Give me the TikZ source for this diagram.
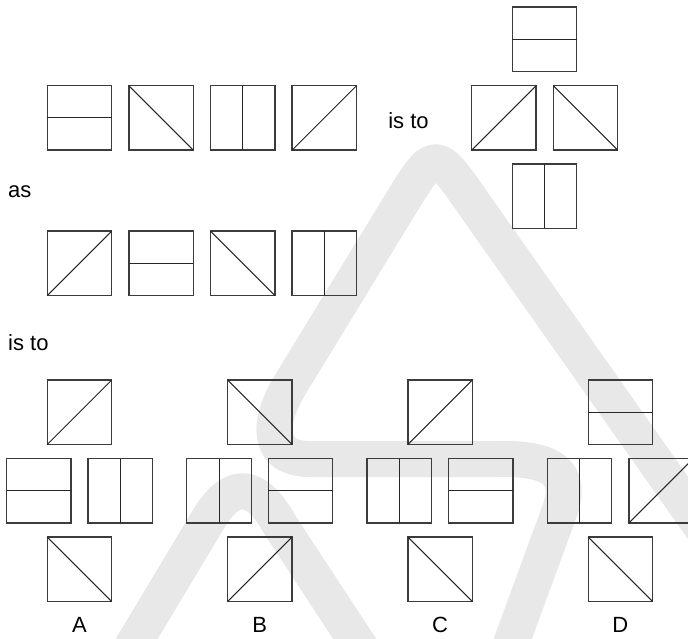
\documentclass[tikz,border=0pt]{standalone}
\usepackage{fontspec}
\setmainfont{Liberation Sans}
\definecolor{wmgray}{RGB}{232,232,232}
\definecolor{edge}{RGB}{60,60,60}
\tikzset{
  sq/.style={draw=edge, line width=1.3pt, minimum width=64.4pt, minimum height=64.4pt, inner sep=0pt, outer sep=0pt},
  inl/.style={draw=black!85, line width=1pt},
  wm/.style={draw=wmgray, line width=36pt, line join=round},
  lab/.style={font=\fontsize{22pt}{26pt}\selectfont, inner sep=0pt, text=black}
}
\newcommand\hbx[3]{\node[sq] (#1) at (#2,#3) {}; \draw[inl] (#1.west) -- (#1.east);}
\newcommand\vbx[3]{\node[sq] (#1) at (#2,#3) {}; \draw[inl] (#1.north) -- (#1.south);}
\newcommand\bbx[3]{\node[sq] (#1) at (#2,#3) {}; \draw[inl] (#1.north west) -- (#1.south east);}
\newcommand\sbx[3]{\node[sq] (#1) at (#2,#3) {}; \draw[inl] (#1.south west) -- (#1.north east);}
\begin{document}
\begin{tikzpicture}[x=1pt,y=-1pt]
\useasboundingbox (0,0) rectangle (688,638);
\fill[white] (0,0) rectangle (688,638);
% watermark
\begin{scope}
\clip (0,0) rectangle (688,638);
\draw[wm] (130,650) -- (205,525) .. controls (230,480) and (255,480) .. (280,525) -- (362,650);
\draw[wm] (760,610) -- (474.5,205) .. controls (435,148) and (435,148) .. (400,205) -- (290,385)
  .. controls (268,421) and (265,459) .. (310,459) -- (500,459)
  .. controls (555,458) and (572,475) .. (560,510) -- (505,660);
\end{scope}
% row 1
\hbx{r1a}{79.5}{117.9}
\bbx{r1b}{161.1}{117.9}
\vbx{r1c}{242.7}{117.9}
\sbx{r1d}{324.3}{117.9}
\node[lab, anchor=base] (isto1) at (408.5,128.3) {is to};
% right cross group
\hbx{qt}{544.5}{39.3}
\sbx{ql}{503.9}{117.9}
\bbx{qr}{585.5}{117.9}
\vbx{qb}{544.5}{196.2}
% as
\node[lab, anchor=base west] (as) at (8,197) {as};
% row 2
\sbx{r2a}{79.5}{263.3}
\hbx{r2b}{161.1}{263.3}
\bbx{r2c}{242.7}{263.3}
\vbx{r2d}{324.3}{263.3}
\node[lab, anchor=base west] (isto2) at (8,350) {is to};
% answer A
\sbx{at}{79.5}{412.2}
\hbx{al}{38.7}{490.7}
\vbx{ar}{120.3}{490.7}
\bbx{ab}{79.5}{569.3}
\node[lab, anchor=base] (la) at (79.5,632.5) {A};
% answer B
\bbx{bt}{259.8}{412.2}
\vbx{bl}{219.0}{490.7}
\hbx{br}{300.6}{490.7}
\sbx{bb}{259.8}{569.3}
\node[lab, anchor=base] (lb) at (259.8,632.5) {B};
% answer C
\sbx{ct}{440.1}{412.2}
\vbx{cl}{399.3}{490.7}
\hbx{cr}{480.9}{490.7}
\bbx{cb}{440.1}{569.3}
\node[lab, anchor=base] (lc) at (440.1,632.5) {C};
% answer D
\hbx{dt}{620.4}{412.2}
\vbx{dl}{579.6}{490.7}
\sbx{dr}{661.2}{490.7}
\bbx{db}{620.4}{569.3}
\node[lab, anchor=base] (ld) at (620.4,632.5) {D};
\end{tikzpicture}
\end{document}
